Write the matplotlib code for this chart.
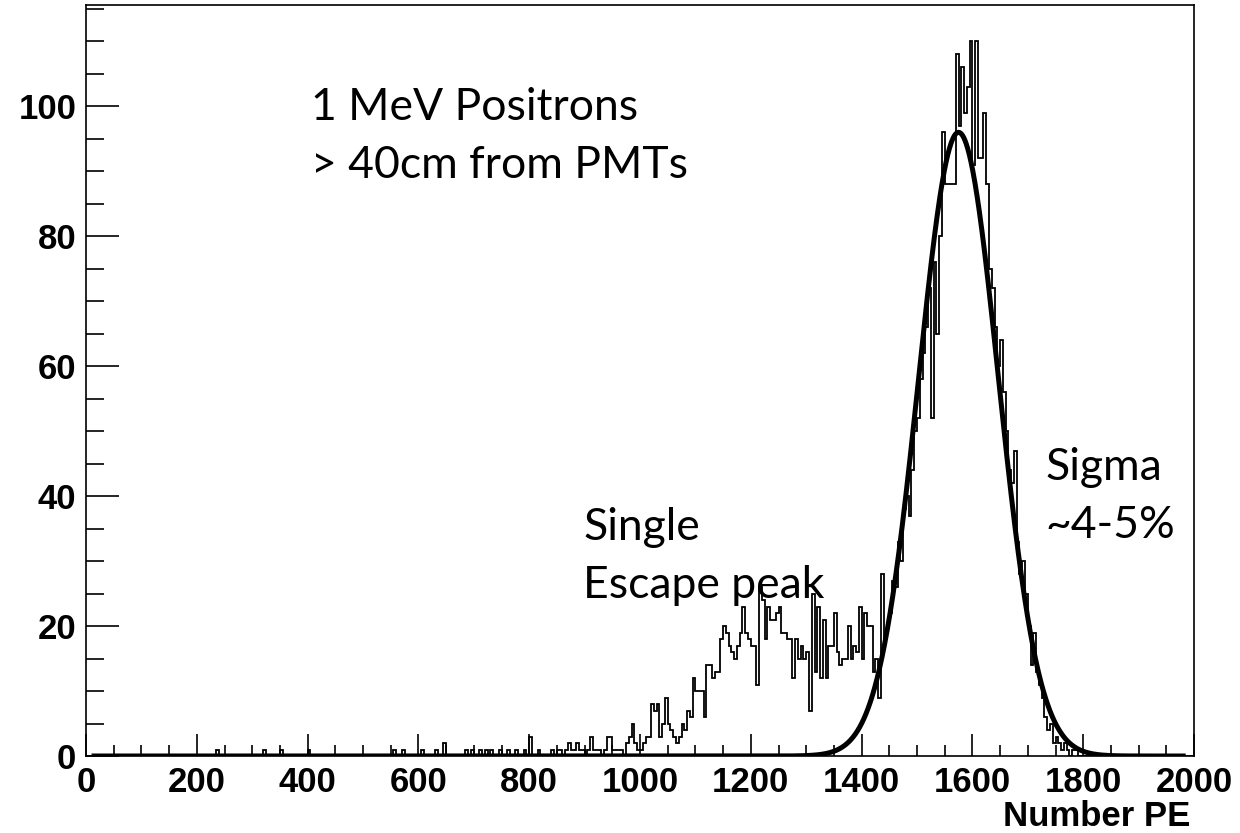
import numpy as np
import matplotlib
matplotlib.use("Agg")
import matplotlib.pyplot as plt
from matplotlib.ticker import MultipleLocator

# ---- data ----
bin_width = 5
x_min, x_max = 0, 2000

# sparse single counts in the low region (bin lower edges, counts)
sparse_edges = [235, 320, 350, 400, 555, 570, 605, 630, 645, 685, 695, 710, 720, 730, 745, 760, 775, 790, 800, 815]
sparse_counts = [1, 1, 1, 1, 1, 1, 1, 1, 2, 1, 1, 1, 1, 1, 1, 1, 1, 1, 3, 1]

# dense region: counts for consecutive 5-wide bins starting at 840
dense_start = 840
dense_counts = [
    1, 0, 1, 1, 0, 1, 2, 1, 1, 2,        # 840-885
    1, 1, 0, 1, 3, 1, 1, 1, 0, 1,        # 890-935
    3, 3, 1, 1, 1, 1, 0, 2, 3, 5,        # 940-985
    2, 1, 1, 2, 3, 3, 8, 7, 8, 3,        # 990-1035
    5, 9, 5, 4, 3, 2, 3, 5, 4, 7,        # 1040-1085
    6, 12, 10, 10, 10, 6, 14, 14, 12, 13,  # 1090-1135
    13, 18, 20, 19, 17, 16, 15, 17, 19, 23,  # 1140-1185
    19, 18, 17, 17, 11, 26, 24, 18, 23, 21,  # 1190-1235
    21, 22, 23, 19, 19, 18, 18, 12, 18, 15,  # 1240-1285
    17, 15, 16, 7, 25, 13, 23, 12, 21, 12,   # 1290-1335
    17, 17, 22, 16, 14, 15, 15, 20, 15, 17,  # 1340-1385
    16, 23, 15, 22, 20, 20, 13, 15, 9, 28,   # 1390-1435
    18, 20, 22, 27, 26, 33, 30, 38, 40, 37,  # 1440-1485
    44, 50, 52, 58, 62, 66, 72, 52, 76, 65,  # 1490-1535
    80, 96, 88, 88, 88, 88, 108, 97, 106, 99,  # 1540-1585
    103, 110, 91, 110, 92, 92, 99, 88, 75, 72,  # 1590-1635
    66, 60, 64, 56, 50, 44, 42, 47, 33, 28,  # 1640-1685
    30, 25, 20, 14, 19, 13, 11, 9, 6, 4,     # 1690-1735
    5, 2, 3, 2, 1, 2, 1, 0, 1, 1,            # 1740-1785
]

# Gaussian fit parameters
fit_amp, fit_mean, fit_sigma = 96.0, 1575.0, 72.0
fit_range = (10, 1985)

x_ticks = [0, 200, 400, 600, 800, 1000, 1200, 1400, 1600, 1800, 2000]
y_ticks = [0, 20, 40, 60, 80, 100]

annotations = [
    (311, 107, "1 MeV Positrons"),
    (311, 165, "> 40cm from PMTs"),
    (583, 527, "Single"),
    (583, 585, "Escape peak"),
    (1045, 468, "Sigma"),
    (1045, 525, "~4-5%"),
]

# ---- build histogram ----
edges = np.arange(x_min, x_max + bin_width, bin_width)
counts = np.zeros(len(edges) - 1)
for e, c in zip(sparse_edges, sparse_counts):
    counts[e // bin_width] = c
i0 = dense_start // bin_width
counts[i0:i0 + len(dense_counts)] = dense_counts

W, H = 1240, 833
fig = plt.figure(figsize=(W / 100, H / 100), dpi=100)
ax = fig.add_axes([86 / W, 77 / H, 1108 / W, 751 / H])

ax.stairs(counts, edges, color="black", linewidth=1.3)

xf = np.linspace(fit_range[0], fit_range[1], 2000)
yf = fit_amp * np.exp(-0.5 * ((xf - fit_mean) / fit_sigma) ** 2)
ax.plot(xf, yf, color="black", linewidth=3.6, solid_capstyle="butt")

ax.set_xlim(x_min, x_max)
ax.set_ylim(0, 115.6)

ax.set_xticks(x_ticks)
ax.set_yticks(y_ticks)
ax.xaxis.set_minor_locator(MultipleLocator(50))
ax.yaxis.set_minor_locator(MultipleLocator(5))
ax.tick_params(axis="x", which="major", direction="in", length=16, width=1.2, pad=7)
ax.tick_params(axis="x", which="minor", direction="in", length=8, width=1.2)
ax.tick_params(axis="y", which="major", direction="in", length=24, width=1.2, pad=7)
ax.tick_params(axis="y", which="minor", direction="in", length=13, width=1.2)
for lab in ax.get_xticklabels() + ax.get_yticklabels():
    lab.set_fontfamily("Liberation Sans")
    lab.set_fontweight("bold")
    lab.set_fontsize(25)
for s in ax.spines.values():
    s.set_linewidth(1.2)

fig.text(1190 / W, 1 - 816 / H, "Number PE", ha="right", va="center",
         fontfamily="Liberation Sans", fontweight="bold", fontsize=25)

for px, py, s in annotations:
    fig.text(px / W, 1 - py / H, s, fontfamily="Lato", fontsize=32,
             color="black", va="center", ha="left")

fig.savefig("out.png", dpi=100)
